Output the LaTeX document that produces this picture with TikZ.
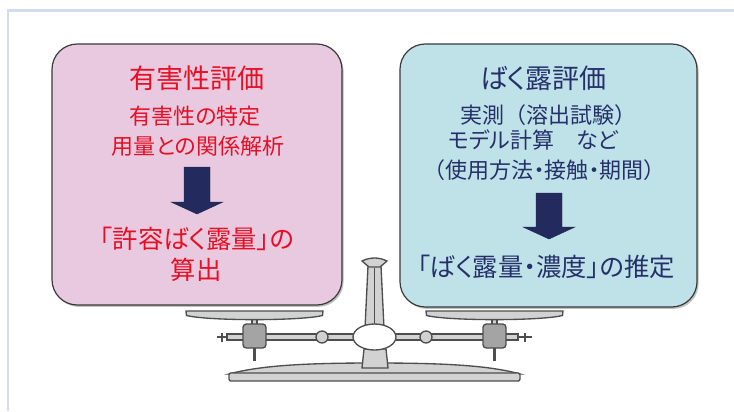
\documentclass[tikz,border=0pt]{standalone}
\usepackage{fontspec}
\newfontfamily\jp[RawFeature=+palt]{Noto Sans CJK JP}
\newfontfamily\jpfull{Noto Sans CJK JP}
\usetikzlibrary{shadows}
\definecolor{framecol}{HTML}{D6DCF0}
\definecolor{pinkbox}{HTML}{E9C9E0}
\definecolor{cyanbox}{HTML}{BFE2E8}
\definecolor{boxline}{HTML}{3A3A3A}
\definecolor{redtext}{HTML}{E60F24}
\definecolor{navytext}{HTML}{25306A}
\definecolor{arrowfill}{HTML}{232B5E}
\definecolor{partfill}{HTML}{D2D2D2}
\definecolor{partline}{HTML}{4E4E4E}
\definecolor{weightfill}{HTML}{A4A4A4}
% full-width parentheses
\newcommand{\lpar}{{\jpfull （}}
\newcommand{\rpar}{{\jpfull ）}}
\tikzset{
  panelbox/.style={draw=boxline, line width=0.9pt, rounded corners=19pt,
    drop shadow={shadow xshift=1.2pt, shadow yshift=-1.4pt, opacity=0.5},
    inner sep=0pt},
  label/.style={inner sep=0pt, font=\jp},
  blockarrow/.style={fill=arrowfill, draw=arrowfill!80!black, line width=0.3pt},
  scalepart/.style={draw=partline, fill=partfill, line width=1pt},
  weight/.style={draw=partline, fill=weightfill, line width=1pt, rounded corners=2.5pt},
  post/.style={draw=partline, line width=2pt},
}
\begin{document}
\begin{tikzpicture}[x=0.75pt, y=-0.75pt]
\useasboundingbox (0,0) rectangle (734,411);
\fill[white] (0,0) rectangle (734,411);
% slide frame
\draw[framecol, line width=2.2pt] (8,411) -- (8,10.5) -- (734,10.5);

% hazard assessment panel
\node[panelbox, fill=pinkbox, minimum width=217.5pt, minimum height=195.75pt] (hazard) at (197,174.5) {};
\node[label, text=redtext, font=\jp\fontsize{20.25pt}{24pt}\selectfont] (hazhead) at (197,78) {有害性評価};
\node[label, text=redtext, font=\jp\fontsize{16.5pt}{20pt}\selectfont] (hazsub1) at (195,116) {有害性の特定};
\node[label, text=redtext, font=\jp\fontsize{16.5pt}{20pt}\selectfont] (hazsub2) at (198,146) {用量との関係解析};
\node[label, text=redtext, font=\jp\fontsize{19pt}{23pt}\selectfont] (hazres1) at (197,239) {「許容ばく露量」の};
\node[label, text=redtext, font=\jp\fontsize{19pt}{23pt}\selectfont] (hazres2) at (196,270) {算出};
\draw[blockarrow] (184,167) -- (210,167) -- (210,202) -- (223,202) -- (197,214) -- (171,202) -- (184,202) -- cycle;

% exposure assessment panel
\node[panelbox, fill=cyanbox, minimum width=222.75pt, minimum height=197.25pt] (exposure) at (548.5,175.5) {};
\node[label, text=navytext, font=\jp\fontsize{20.25pt}{24pt}\selectfont] (exphead) at (543.5,78) {ばく露評価};
\node[label, text=navytext, font=\jp\fontsize{16.5pt}{20pt}\selectfont] (expsub1) at (548.5,115) {実測\lpar 溶出試験\rpar};
\node[label, text=navytext, font=\jp\fontsize{16.5pt}{20pt}\selectfont] (expsub2) at (533.5,140) {モデル計算　など};
\node[label, text=navytext, font=\jp\fontsize{16.5pt}{20pt}\selectfont] (expsub3) at (544.5,170) {\lpar 使用方法・接触・期間\rpar};
\node[label, text=navytext, font=\jp\fontsize{19pt}{23pt}\selectfont] (expres) at (546,267) {「ばく露量・濃度」の推定};
\draw[blockarrow] (536,193) -- (562,193) -- (562,227) -- (575,227) -- (549,239) -- (523,227) -- (536,227) -- cycle;

% balance: base plate
\draw[scalepart] (229,374) .. controls (262,365) and (310,363) .. (374,363)
  .. controls (440,363) and (488,365) .. (520,374) -- cycle;
\draw[scalepart, rounded corners=1.5pt] (229,373) rectangle (520,381);
% lower column
\draw[scalepart] (364,349) -- (386,349) -- (388,368) -- (362,368) -- cycle;
% upper column and pointer
\draw[scalepart] (368,266) -- (381,266) -- (384,328) -- (365,328) -- cycle;
\draw[partline, line width=0.6pt] (374.5,268) -- (374.5,326);
\draw[scalepart] (362,261) .. controls (370,257) and (379,257) .. (387,261) -- (380,267) -- (369,267) -- cycle;
% beam with end screws
\draw[partline, line width=1.6pt] (217,337) -- (228,337) (222,332.5) -- (222,342);
\draw[partline, line width=1.6pt] (517,337) -- (532,337) (525,332.5) -- (525,342);
\draw[scalepart] (227,334) rectangle (518,340);
\draw[scalepart] (322,337) circle[radius=6];
\draw[scalepart] (426,337) circle[radius=6];
% hanging posts and weights
\draw[post] (254.5,348) -- (254.5,361);
\draw[post] (494.5,348) -- (494.5,361);
\draw[scalepart, line width=0.8pt] (252,319) rectangle (257,325);
\draw[scalepart, line width=0.8pt] (492,319) rectangle (497,325);
\draw[weight] (243,324) rectangle (266,348);
\draw[weight] (483,324) rectangle (506,348);
% pivot
\draw[draw=partline, fill=white, line width=1pt] (374.5,337) ellipse [x radius=21.5, y radius=13];
% pans
\draw[scalepart] (186,311) -- (323,311) -- (322.5,315.5) .. controls (300,321) and (209,321) .. (186.5,315.5) -- cycle;
\draw[scalepart] (426,311) -- (563,311) -- (562.5,315.5) .. controls (540,321) and (449,321) .. (426.5,315.5) -- cycle;
\end{tikzpicture}
\end{document}
